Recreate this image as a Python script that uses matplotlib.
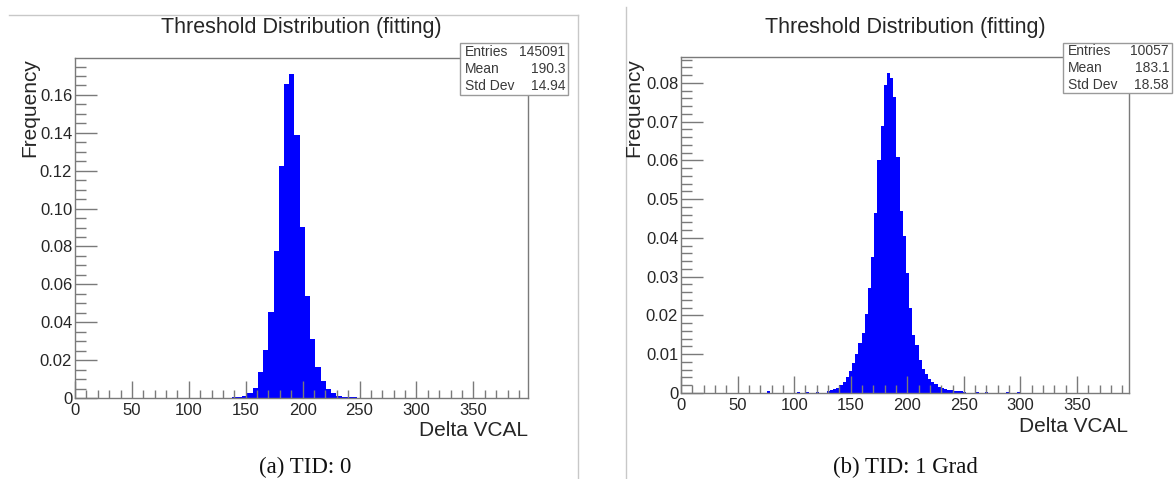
import numpy as np
import matplotlib.pyplot as plt
from matplotlib.lines import Line2D
from matplotlib.patches import Rectangle

plt.rcParams['font.family'] = ['Liberation Sans', 'DejaVu Sans']

W, H = 1174, 479

# --- data -----------------------------------------------------------------
# (a) TID 0 : bins of ~4.6 DeltaVCAL starting at 128.4
tid0_start = 128.4
tid0_width = 4.6
tid0_freq = [0.0001, 0.0002, 0.0003, 0.0005, 0.0010, 0.0024, 0.0055, 0.0139,
             0.0253, 0.0456, 0.0776, 0.1227, 0.1656, 0.1709, 0.1389, 0.0901,
             0.0540, 0.0310, 0.0162, 0.0091, 0.0048, 0.0025, 0.0012, 0.0007,
             0.0004, 0.0003, 0.0002, 0.0002, 0.0001, 0.0001]
tid0_stats = [("Entries", "145091"), ("Mean", "190.3"), ("Std Dev", "14.94")]

# (b) TID 1 Grad : finer bins of ~2.8 starting at 128.8
tid1_start = 128.8
tid1_width = 2.8
tid1_freq = [0.0006, 0.0008, 0.0010, 0.0013, 0.0021, 0.0028, 0.0042, 0.0058,
             0.0078, 0.0100, 0.0128, 0.0156, 0.0205, 0.0270, 0.0350, 0.0465,
             0.0600, 0.0690, 0.0795, 0.0826, 0.0812, 0.0765, 0.0610, 0.0470,
             0.0405, 0.0310, 0.0220, 0.0150, 0.0125, 0.0085, 0.0062, 0.0048,
             0.0036, 0.0028, 0.0022, 0.0016, 0.0013, 0.0010, 0.0008, 0.0007,
             0.0006, 0.0004, 0.0004, 0.0003]
# isolated entries far from the peak
tid1_stray_x = [77.0, 104.0, 112.0, 121.0, 262.0, 270.0, 289.0, 298.0, 316.0]
tid1_stray_f = [0.0005, 0.0002, 0.0002, 0.0003, 0.0003, 0.0002, 0.0002, 0.0002, 0.0001]
tid1_stats = [("Entries", "10057"), ("Mean", "183.1"), ("Std Dev", "18.58")]

x_ticks = [0, 50, 100, 150, 200, 250, 300, 350]
tid0_yticks = [0, 0.02, 0.04, 0.06, 0.08, 0.10, 0.12, 0.14, 0.16]
tid1_yticks = [0, 0.01, 0.02, 0.03, 0.04, 0.05, 0.06, 0.07, 0.08]

title = "Threshold Distribution (fitting)"
x_title = "Delta VCAL"
y_title = "Frequency"
captions = ["(a) TID: 0", "(b) TID: 1 Grad"]

BLUE = '#0000ff'
FRAME = '#7a7a7a'
TXT = '#262626'


def fx(x):
    return x / W


def fy(y):
    return 1 - y / H


def panel(fig, box, edges, freq, xmax, ymax, yticks, yminor):
    l, t, r, b = box
    ax = fig.add_axes([fx(l), fy(b), fx(r) - fx(l), fy(t) - fy(b)])
    ax.stairs(freq, edges, fill=True, color=BLUE, lw=0.8)
    ax.set_xlim(0, xmax)
    ax.set_ylim(0, ymax)
    ax.set_xticks(x_ticks)
    ax.set_xticks(np.arange(0, xmax, 10), minor=True)
    ax.set_yticks(yticks)
    ax.set_yticklabels(["0"] + ["%.2f" % v for v in yticks[1:]])
    ax.set_yticks(np.arange(0, ymax, yminor), minor=True)
    ax.tick_params(axis='both', which='both', direction='in', colors=FRAME,
                   labelcolor=TXT, labelsize=12, width=1)
    ax.tick_params(axis='y', which='major', length=16, pad=2)
    ax.tick_params(axis='y', which='minor', length=8)
    ax.tick_params(axis='x', which='major', length=12, pad=3.5)
    ax.tick_params(axis='x', which='minor', length=6)
    for s in ax.spines.values():
        s.set_color(FRAME)
        s.set_linewidth(1)
    return ax


def stats_box(fig, l, t, r, b, rows):
    fig.add_artist(Rectangle((fx(l), fy(b)), fx(r) - fx(l), fy(t) - fy(b),
                             transform=fig.transFigure, facecolor='white',
                             edgecolor='#9a9a9a', lw=1, zorder=10))
    step = (b - t) / 3
    for i, (k, v) in enumerate(rows):
        yy = fy(t + step * (i + 0.5))
        fig.text(fx(l + 5), yy, k, ha='left', va='center', fontsize=10,
                 color='#3a3a3a', zorder=11)
        fig.text(fx(r - 3), yy, v, ha='right', va='center', fontsize=10,
                 color='#3a3a3a', zorder=11)


fig = plt.figure(figsize=(W / 100, H / 100), dpi=100)

# panel borders
fig.add_artist(Line2D([fx(9), fx(578)], [fy(15), fy(15)], color='#c8c8c8', lw=1))
fig.add_artist(Line2D([fx(578), fx(578)], [fy(15), fy(479)], color='#c8c8c8', lw=1))
fig.add_artist(Line2D([fx(626), fx(626)], [fy(7), fy(479)], color='#c8c8c8', lw=1))

# (a)
e0 = tid0_start + tid0_width * np.arange(len(tid0_freq) + 1)
ax0 = panel(fig, (75, 58, 528, 398), e0, tid0_freq, 398, 0.1795, tid0_yticks, 0.005)
fig.text(fx(301), fy(28), title, ha='center', va='center', fontsize=15.5, color=TXT)
fig.text(fx(528), fy(430), x_title, ha='right', va='center', fontsize=15, color=TXT)
fig.text(fx(30), fy(58), y_title, ha='center', va='top', rotation=90, fontsize=15, color=TXT)
stats_box(fig, 460, 43, 568, 95, tid0_stats)
fig.text(fx(305), fy(467), captions[0], ha='center', va='center', fontsize=16.5,
         family=['Liberation Serif', 'DejaVu Serif'], color='#111111')

# (b)
e1 = tid1_start + tid1_width * np.arange(len(tid1_freq) + 1)
ax1 = panel(fig, (681, 57, 1129, 393), e1, tid1_freq, 396, 0.0867, tid1_yticks, 0.002)
ax1.bar(tid1_stray_x, tid1_stray_f, width=tid1_width, color=BLUE, lw=0)
fig.text(fx(905), fy(28), title, ha='center', va='center', fontsize=15.5, color=TXT)
fig.text(fx(1128), fy(427), x_title, ha='right', va='center', fontsize=15, color=TXT)
fig.text(fx(634), fy(58), y_title, ha='center', va='top', rotation=90, fontsize=15, color=TXT)
stats_box(fig, 1063, 43, 1172, 93, tid1_stats)
fig.text(fx(905), fy(467), captions[1], ha='center', va='center', fontsize=16.5,
         family=['Liberation Serif', 'DejaVu Serif'], color='#111111')

fig.savefig("out.png", dpi=100)
